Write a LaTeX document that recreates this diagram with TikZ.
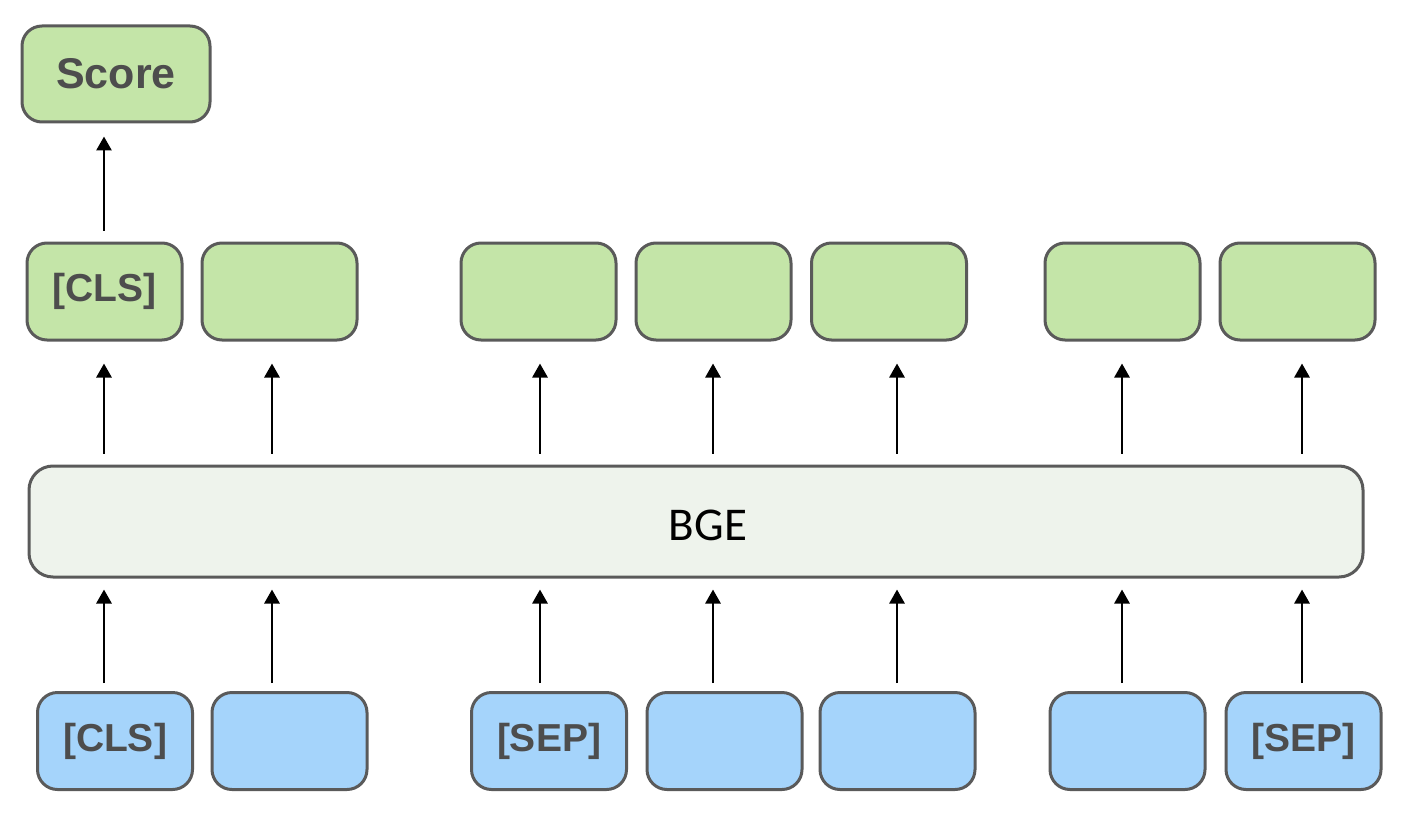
\documentclass[tikz,border=0pt]{standalone}
\usepackage{fontspec}
\newfontfamily\tokfont{Liberation Sans}
\newfontfamily\bgefont{Carlito}
\usetikzlibrary{arrows.meta}
\definecolor{outgreen}{HTML}{C4E5A8}
\definecolor{inblue}{HTML}{A5D4FB}
\definecolor{bgefill}{HTML}{EEF3EC}
\definecolor{edgegray}{HTML}{5A5A5A}
\definecolor{txtgray}{HTML}{4D4D4D}
\begin{document}
\begin{tikzpicture}[x=0.5pt,y=-0.5pt,
	tok/.style={draw=edgegray,line width=1.5pt,rounded corners=10pt,
		minimum width=77.5pt,minimum height=48.5pt,inner sep=0pt,
		font=\tokfont\bfseries\fontsize{19.5}{20}\selectfont,text=txtgray},
	outtok/.style={tok,fill=outgreen},
	intok/.style={tok,fill=inblue},
	arr/.style={-{Triangle[length=7pt,width=7.5pt]},line width=1.4pt}]
	\useasboundingbox (0,0) rectangle (1406,818);
	
	% encoder
	\node[draw=edgegray,line width=1.5pt,fill=bgefill,rounded corners=12pt,
		minimum width=667pt,minimum height=55.5pt] (bge) at (696,521.5) {};
	\node[font=\bgefont\fontsize{23.5}{24}\selectfont] (bgetxt)
		at ([xshift=6pt,yshift=-2pt]bge.center) {BGE};
	
	% token columns
	\foreach \i/\ox/\ix/\ax/\olbl/\ilbl in {
		1/104.5/115/104/{[CLS]}/{[CLS]},
		2/279.5/289.5/272/{}/{},
		3/538.5/549/540/{}/{[SEP]},
		4/713.5/724.5/713/{}/{},
		5/889/897.5/897/{}/{},
		6/1122.5/1127.5/1122/{}/{},
		7/1297.5/1303.5/1302/{}/{[SEP]}}
	{
		\coordinate (c\i) at (\ax,0);
		\node[outtok] (out\i) at (\ox,291.5) {\olbl};
		\node[intok] (in\i) at (\ix,741) {\ilbl};
		\draw[arr,shorten <=4pt,shorten >=5.5pt] (in\i.north -| c\i) -- (bge.south -| c\i);
		\draw[arr,shorten <=5.5pt,shorten >=11pt] (bge.north -| c\i) -- (out\i.south -| c\i);
	}
	
	% score
	\node[outtok,minimum width=94pt,minimum height=48pt,
		font=\tokfont\bfseries\fontsize{21.5}{22}\selectfont] (score) at (116,74) {Score};
	\draw[arr,shorten <=5.5pt,shorten >=6.5pt] (out1.north -| c1) -- (score.south -| c1);
	
\end{tikzpicture}
\end{document}
